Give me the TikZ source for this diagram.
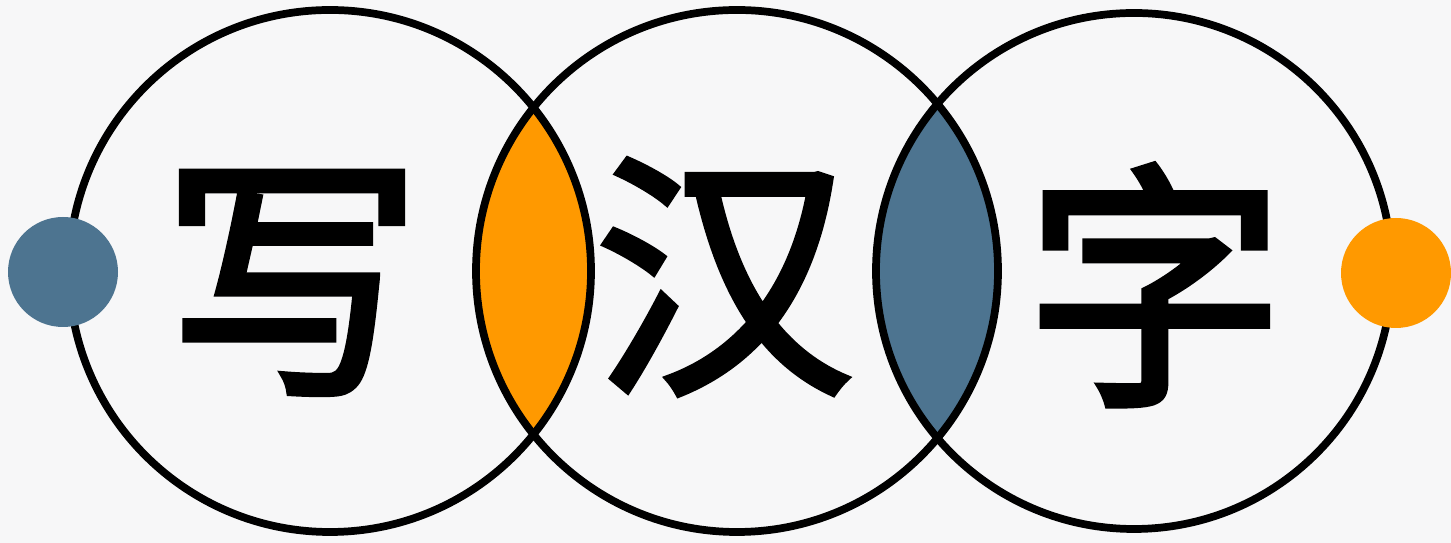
\documentclass[tikz,border=0pt]{standalone}
\usepackage{fontspec}
\newfontfamily\cjk[FakeBold=2.5]{Noto Sans CJK SC}
\usetikzlibrary{positioning}
\definecolor{slate}{HTML}{4D7490}
\definecolor{amber}{HTML}{FF9900}
\definecolor{paper}{HTML}{F7F7F8}

\begin{document}
\begin{tikzpicture}[
    ring/.style={draw, line width=2.2pt},
    dot/.style={circle, inner sep=0pt, minimum size=1.1cm},
    glyph/.style={font=\cjk\fontsize{74}{74}\selectfont, inner sep=0pt}
]
\def\Ra{2.61}\def\Rb{2.61}\def\Rc{2.58}
\fill[paper] (0,0) rectangle (14.51,5.43);
\useasboundingbox (0,0) rectangle (14.51,5.43);

% overlaps
\begin{scope}
  \clip (3.30,2.72) circle (\Ra);
  \fill[amber] (7.37,2.72) circle (\Rb);
\end{scope}
\begin{scope}
  \clip (7.37,2.72) circle (\Rb);
  \fill[slate] (11.34,2.72) circle (\Rc);
\end{scope}

% rings
\draw[ring] (3.30,2.72) circle (\Ra);
\draw[ring] (7.37,2.72) circle (\Rb);
\draw[ring] (11.34,2.72) circle (\Rc);

\node[dot, fill=slate] (ldot) at (0.63,2.71) {};
\node[dot, fill=amber] (rdot) at (13.96,2.70) {};

\node[glyph] (xie) at (2.92,2.60) {写};
\node[glyph] (han) at (7.24,2.66) {汉};
\node[glyph] (zi) at (11.55,2.58) {字};
\end{tikzpicture}
\end{document}
